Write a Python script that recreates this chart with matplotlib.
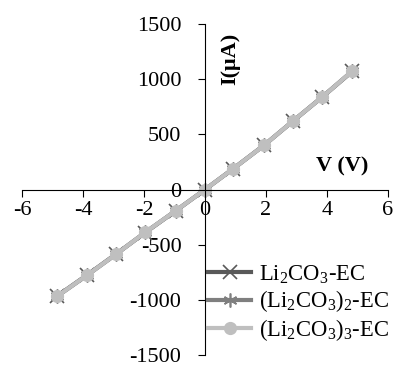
import matplotlib
matplotlib.use('Agg')
import matplotlib.pyplot as plt

plt.rcParams['font.family'] = ['Liberation Serif', 'DejaVu Serif']
plt.rcParams['mathtext.fontset'] = 'custom'
plt.rcParams['mathtext.rm'] = 'Liberation Serif'
plt.rcParams['axes.unicode_minus'] = False

# 数据：电压 (V) 与电流 (µA)
voltage = [-4.85, -3.87, -2.92, -1.96, -0.95, 0.0, 0.93, 1.93, 2.9, 3.85, 4.83]
current_1 = [-965, -775, -585, -390, -190, 0, 190, 400, 625, 840, 1072]
current_2 = [-968, -778, -587, -388, -191, 0, 191, 401, 624, 842, 1075]
current_3 = [-967, -777, -587, -388, -190, 0, 190, 400, 625, 840, 1075]

labels = ['Li$_\\mathregular{2}$CO$_\\mathregular{3}$-EC',
          '(Li$_\\mathregular{2}$CO$_\\mathregular{3}$)$_\\mathregular{2}$-EC',
          '(Li$_\\mathregular{2}$CO$_\\mathregular{3}$)$_\\mathregular{3}$-EC']
x_ticks = [-6, -4, -2, 0, 2, 4, 6]
y_ticks = [-1500, -1000, -500, 0, 500, 1000, 1500]

fig = plt.figure(figsize=(4.0, 3.66), dpi=100)
ax = fig.add_axes([0.055, 0.030, 0.915, 0.904])

ax.plot(voltage, current_1, color='#595959', lw=3, marker='x', ms=10, mew=1.2, label=labels[0])
ax.plot(voltage, current_2, color='#7f7f7f', lw=3, marker=(6, 2, 0), ms=10, mew=1.2, label=labels[1])
ax.plot(voltage, current_3, color='#bfbfbf', lw=3, marker='o', ms=8.5, label=labels[2])

ax.set_xlim(-6, 6)
ax.set_ylim(-1500, 1500)
ax.set_xticks(x_ticks)
ax.set_yticks(y_ticks)
ax.tick_params(labelsize=16, direction='out', length=5, width=0.8)
ax.tick_params(axis='y', pad=12)
ax.tick_params(axis='x', pad=3)

ax.spines['left'].set_position(('data', 0))
ax.spines['bottom'].set_position(('data', 0))
ax.spines['top'].set_visible(False)
ax.spines['right'].set_visible(False)
for s in ['left', 'bottom']:
    ax.spines[s].set_linewidth(0.8)

ax.text(0.82, 1183, 'I(μA)', rotation=90, fontsize=16, fontweight='bold', ha='center', va='center')
ax.text(4.49, 208, 'V (V)', fontsize=16, fontweight='bold', ha='center', va='center')

ax.legend(loc='lower right', bbox_to_anchor=(1.04, -0.005), frameon=False, fontsize=16.3,
          handlelength=1.9, handletextpad=0.35, labelspacing=0.12, borderpad=0.1)

fig.savefig('out.png', dpi=100)
